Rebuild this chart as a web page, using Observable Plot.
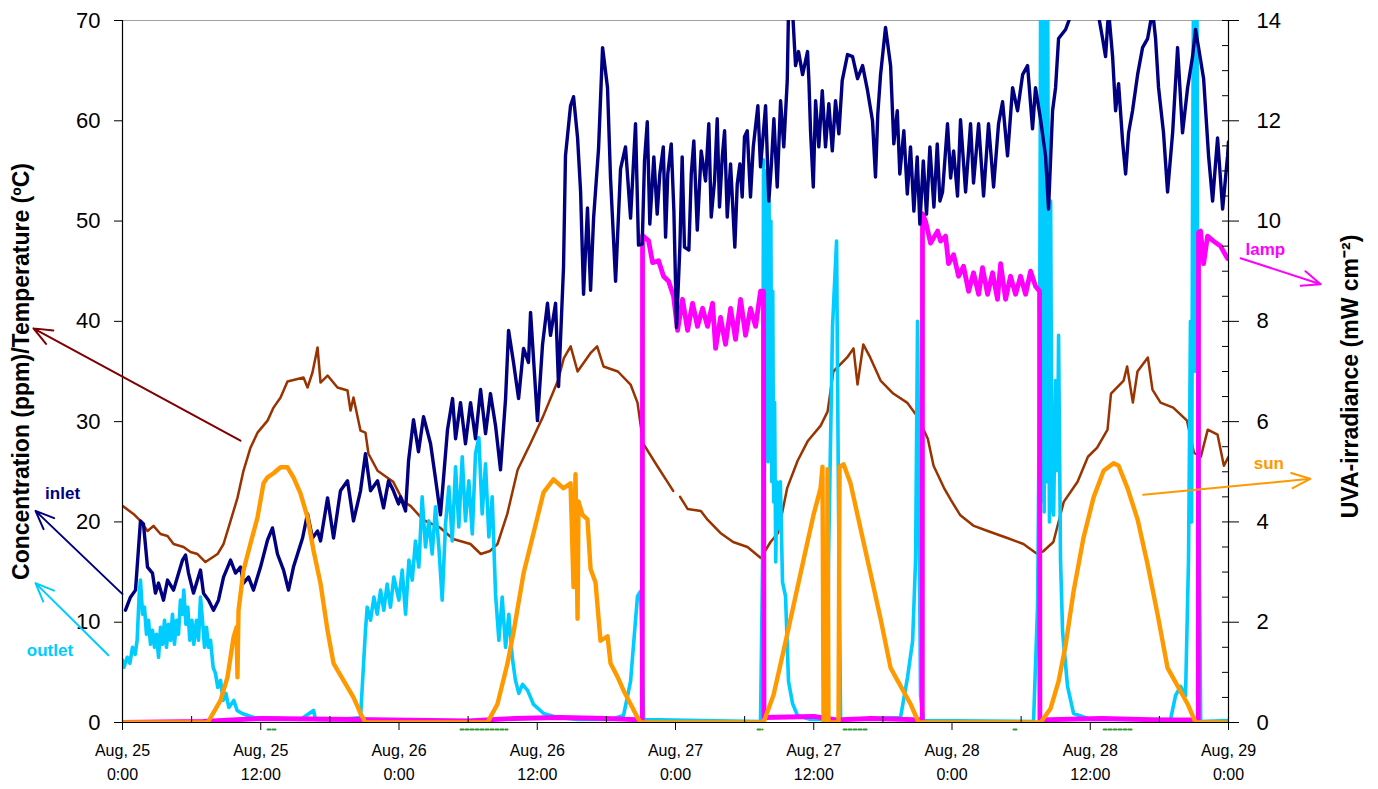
<!DOCTYPE html>
<html><head><meta charset="utf-8">
<script src="https://cdn.jsdelivr.net/npm/d3@7"></script>
<script src="https://cdn.jsdelivr.net/npm/@observablehq/plot@0.6"></script>
<style>
body{margin:0;background:#fff;}
#chart svg{font-family:Arial,"Liberation Sans",sans-serif;}
</style>
</head><body><div id="chart"></div>
<script>
// x = hours since Aug 25 0:00, left-axis values (ppm / ºC)
const inletData = [[0.26,11.2],[0.69,12.5],[1.13,13.2],[1.56,20.1],[1.82,19.8],[2.17,15.5],[2.6,14.9],[2.86,12.9],[3.13,13.9],[3.56,12.2],[3.91,14.2],[4.43,13.2],[4.77,14.5],[5.21,16.2],[5.47,16.7],[5.73,14.9],[6.16,12.9],[6.77,15.2],[7.03,12.9],[7.47,12.2],[7.9,11.2],[8.33,12.2],[8.77,14.5],[9.38,16.2],[9.81,14.9],[10.24,15.5],[10.5,13.9],[10.94,14.5],[11.37,13.2],[11.98,15.5],[12.59,18.2],[13.02,19.4],[13.45,16.8],[13.98,15.2],[14.41,13.2],[14.84,15.5],[15.63,18.4],[16.06,20.8],[16.49,18.4],[16.93,19.1],[17.19,18.1],[17.8,22.4],[18.32,18.4],[18.92,23.1],[19.53,24.1],[20.05,20.1],[20.66,23.1],[21.09,26.8],[21.53,23.1],[22.14,24.1],[22.66,21.4],[23.09,24.1],[23.52,23.1],[23.96,21.8],[24.13,22.5],[24.57,21.1],[24.83,26.1],[25.26,30.2],[25.69,27.0],[26.13,30.5],[26.74,27.8],[27.17,24.3],[27.6,20.7],[27.86,24.3],[28.21,29.2],[28.65,32.3],[28.91,28.3],[29.34,31.9],[29.77,27.8],[30.21,31.9],[30.64,28.3],[31.08,33.2],[31.51,28.8],[31.94,32.8],[32.38,29.6],[32.81,25.2],[33.25,32.3],[33.51,39.1],[33.94,35.9],[34.38,32.3],[34.81,37.3],[35.24,35.9],[35.42,40.9],[36.02,30.1],[36.46,37.7],[36.89,41.8],[37.15,38.6],[37.59,41.8],[37.85,33.5],[38.28,45.4],[38.45,56.5],[38.89,61.5],[39.15,62.4],[39.5,58.3],[39.76,53.0],[40.02,42.7],[40.36,51.3],[40.63,43.1],[40.89,50.3],[41.32,57.2],[41.67,67.3],[42.1,63.3],[42.36,54.3],[42.8,44.0],[43.23,55.2],[43.66,57.4],[44.1,50.3],[44.53,59.7],[44.79,47.6],[45.11,47.7],[45.31,56.0],[45.55,59.9],[45.77,49.7],[46.12,56.4],[46.41,50.7],[46.64,54.7],[46.94,57.4],[47.14,48.4],[47.33,54.7],[47.63,57.7],[47.86,51.0],[48.09,39.4],[48.38,47.4],[48.58,56.4],[48.78,47.4],[49.16,47.1],[49.37,54.7],[49.59,58.0],[49.89,49.1],[50.23,57.0],[50.61,54.0],[50.89,59.7],[51.1,50.4],[51.39,54.0],[51.62,60.2],[51.82,51.4],[52.06,56.4],[52.26,59.0],[52.49,50.4],[52.78,55.7],[53.15,47.4],[53.36,53.7],[53.59,55.7],[53.79,52.4],[53.99,58.4],[54.23,59.0],[54.51,52.4],[54.75,57.4],[55.15,61.5],[55.38,55.4],[55.82,61.5],[56.1,52.0],[56.31,55.4],[56.54,60.2],[56.83,53.4],[57.12,62.0],[57.4,57.4],[57.7,64.0],[57.81,71],[58.16,71],[58.42,65.5],[58.68,66.9],[59.03,64.6],[59.46,66.9],[59.58,64.0],[59.72,59.0],[59.96,53.4],[60.16,62.0],[60.44,57.4],[60.74,63.0],[61.02,57.4],[61.31,61.7],[61.61,57.0],[61.89,62.0],[62.18,58.7],[62.47,64.0],[62.93,66.6],[63.37,66.4],[63.8,64.2],[64.24,65.5],[64.67,63.0],[65.1,60.0],[65.36,54.4],[65.56,60.7],[65.8,64.6],[66.23,69.3],[66.67,65.5],[66.95,57.7],[67.25,61.0],[67.47,54.7],[67.82,59.0],[68.12,52.7],[68.4,57.4],[68.69,51.0],[68.98,56.4],[69.21,49.7],[69.51,56.0],[69.79,50.7],[70.08,57.4],[70.43,51.4],[70.72,57.7],[70.95,52.0],[71.18,52.9],[71.61,59.7],[71.88,54.3],[72.14,57.0],[72.48,52.5],[72.74,60.1],[73.18,52.9],[73.61,59.7],[73.87,53.8],[74.31,59.7],[74.74,52.5],[75.17,59.7],[75.61,53.4],[76.04,59.7],[76.39,61.9],[76.82,56.5],[77.26,63.3],[77.69,61.0],[78.13,64.6],[78.56,65.5],[78.99,59.2],[79.25,63.3],[79.69,60.1],[80.12,56.5],[80.38,51.2],[80.73,61.0],[80.99,63.3],[81.25,68.2],[81.86,69.1],[82.47,71],[84.64,71],[85.07,68.2],[85.33,66.4],[85.59,71],[85.94,66.4],[86.2,61.0],[86.46,63.7],[86.81,57.9],[87.07,54.7],[87.33,58.8],[87.67,61.0],[88.11,64.6],[88.54,67.3],[88.98,68.2],[89.41,71],[89.67,68.2],[89.93,63.3],[90.36,58.8],[90.71,52.9],[91.15,58.8],[91.58,67.3],[92.01,58.8],[92.45,63.3],[92.88,66.4],[93.14,69.1],[93.4,67.3],[93.84,64.2],[94.27,56.5],[94.62,52.0],[95.05,58.3],[95.49,51.2],[95.92,56.5],[96,57.9]];

const outletData = [[0,6.2],[0.12,5.5],[0.41,6.5],[0.64,5.9],[0.87,7.5],[1.1,6.8],[1.27,8.2],[1.45,12.8],[1.56,14.2],[1.74,10.8],[1.91,11.5],[2.08,8.8],[2.26,10.2],[2.43,7.8],[2.6,9.2],[2.78,7.5],[2.95,8.8],[3.13,6.5],[3.3,9.5],[3.47,7.8],[3.65,10.2],[3.82,7.5],[3.99,9.8],[4.17,8.2],[4.34,10.8],[4.51,7.8],[4.69,10.2],[4.86,8.8],[5.03,12.2],[5.21,10.8],[5.32,13.2],[5.5,9.8],[5.67,11.5],[5.84,8.2],[6.02,10.2],[6.19,7.8],[6.42,10.2],[6.6,8.2],[6.77,12.5],[6.94,10.2],[7.12,7.5],[7.29,9.5],[7.47,7.5],[7.64,8.2],[7.87,5.5],[8.07,4.9],[8.27,3.5],[8.51,4.2],[8.74,2.2],[8.97,2.9],[9.23,1.5],[9.66,2.2],[9.95,1.2],[10.39,0.9],[11.37,0.5],[13.72,0.4],[15.45,0.3],[16.58,1.2],[16.75,0.3],[18.92,0.3],[20.66,0.5],[21.09,9.2],[21.24,11.5],[21.53,10.2],[21.82,12.5],[22.11,10.8],[22.4,13.2],[22.68,11.2],[22.97,13.8],[23.26,11.5],[23.55,14.5],[23.99,12.2],[24.28,15.2],[24.57,10.8],[24.86,16.2],[25.15,14.2],[25.43,18.1],[25.72,15.5],[26.01,22.5],[26.3,17.5],[26.59,20.1],[26.88,16.8],[27.17,21.5],[27.46,17.5],[27.75,12.2],[28.04,19.8],[28.33,23.5],[28.62,18.1],[28.91,25.5],[29.19,19.5],[29.49,26.5],[29.77,20.1],[30.06,24.1],[30.36,18.8],[30.64,26.8],[30.93,28.4],[31.22,20.8],[31.51,25.8],[31.8,18.5],[32.09,22.5],[32.38,12.8],[32.67,8.2],[32.96,12.5],[33.25,7.5],[33.53,10.8],[33.83,6.5],[34.11,4.2],[34.4,2.9],[34.72,3.8],[35.16,3.2],[35.68,1.8],[36.55,0.9],[37.76,0.5],[39.5,0.3],[42.36,0.3],[43.49,0.7],[44.1,4.1],[44.7,12.6],[44.97,13.1],[45.23,0.3],[50.17,0.2],[55.38,0.1],[55.56,16.2],[55.64,56.1],[55.72,25],[55.8,55],[55.88,30],[55.96,52],[56.04,26],[56.12,52],[56.2,33],[56.28,50],[56.36,24],[56.44,43],[56.52,22],[56.6,31.9],[56.7,16],[56.8,24],[56.94,19.3],[57.1,24],[57.29,14],[57.55,12.6],[57.81,4.1],[58.16,1.9],[58.59,0.7],[59.72,0.3],[61.2,0.3],[61.28,16.2],[61.63,39.5],[61.98,48.0],[62.15,21.6],[62.33,0.3],[67.53,0.5],[68.14,4.5],[68.58,8.1],[68.84,16.2],[69.01,40.0],[69.27,2.7],[69.53,0.2],[79.08,0.1],[79.43,11.7],[79.6,34.1],[79.7,75],[79.76,22],[79.82,75],[79.88,25],[79.94,75],[80.0,21],[80.06,75],[80.12,28],[80.18,75],[80.24,24],[80.3,75],[80.38,38.6],[80.46,20],[80.56,52.0],[80.68,22],[80.82,20.7],[80.99,34.1],[81.16,25.1],[81.25,38.6],[81.42,16.2],[81.6,9.0],[82.03,3.6],[82.55,0.9],[84.03,0.3],[90.97,0.3],[91.41,2.7],[91.84,3.6],[92.27,2.7],[92.53,16.2],[92.7,40],[92.8,20],[92.88,52.0],[92.97,75],[93.05,35],[93.12,75],[93.2,40],[93.26,75],[93.32,43.1],[93.58,0.1],[96,0.2]];

const tempData = [[0,21.6],[0.95,20.8],[1.56,20.1],[2.17,19.1],[2.69,19.6],[3.3,18.8],[3.91,18.6],[4.43,17.8],[5.3,17.5],[5.9,17.0],[6.51,16.8],[7.2,16.0],[8.25,16.8],[8.77,17.8],[9.38,20.1],[9.98,22.4],[10.5,25.1],[11.11,27.4],[11.72,28.9],[12.59,30.1],[13.11,31.4],[13.72,32.4],[14.32,34.0],[15.71,34.4],[16.06,33.4],[16.49,34.9],[16.93,37.4],[17.19,33.9],[17.8,34.6],[18.66,33.4],[19.53,33.1],[19.79,31.1],[20.05,32.4],[20.66,29.1],[21.09,28.9],[21.35,26.8],[22.14,25.1],[23.0,24.4],[23.5,24.0],[24.4,22.0],[25.0,21.6],[26.1,20.2],[27.6,19.4],[28.7,18.3],[30.2,17.8],[31.1,16.8],[31.9,17.1],[32.55,17.8],[33.4,20.8],[34.3,25.2],[35.4,27.8],[36.5,30.5],[37.8,34.1],[38.3,36.3],[38.9,37.5],[39.5,35.0],[40.6,36.8],[41.2,37.5],[41.75,35.5],[43.0,35.0],[44.1,33.7],[44.7,31.9],[45.2,27.8],[46.4,25.6],[47.3,24.0],[47.8,23.1],[48.1,null],[48.4,22.5],[49.05,21.3],[50.2,21.1],[50.8,20.2],[51.9,18.9],[53.0,18.0],[54.25,17.5],[55.4,16.4],[56.25,18.0],[56.9,18.9],[57.7,23.4],[58.6,26.1],[59.5,28.1],[60.6,29.6],[61.2,31.0],[61.7,35.0],[62.9,36.4],[63.45,37.3],[63.8,33.7],[64.3,37.7],[64.9,36.4],[65.8,34.1],[66.9,32.8],[68.1,31.9],[69.0,30.5],[69.9,28.3],[70.4,25.6],[71.3,23.4],[71.9,22.2],[72.7,20.7],[73.9,19.6],[75.1,19.1],[76.8,18.4],[78.2,17.8],[79.4,16.8],[79.95,17.1],[80.8,18.0],[81.7,22.0],[82.9,24.0],[83.8,26.5],[84.6,27.4],[85.5,29.2],[85.8,32.8],[86.9,34.1],[87.2,35.5],[87.7,31.9],[88.1,35.0],[89.0,36.4],[89.4,33.2],[90.1,31.9],[91.2,31.4],[92.4,30.1],[93.0,26.9],[93.6,26.5],[94.2,29.2],[95.05,28.7],[95.6,25.6],[96,26.5]];

// right-axis values (UVA-irradiance, mW cm-2)
const sunData = [[0,0],[7.4,0],[8.51,0.44],[9.11,0.9],[9.64,1.7],[9.9,1.9],[9.98,0.9],[10.07,2.23],[10.5,3.03],[11.11,3.57],[11.72,4.09],[12.24,4.77],[12.59,4.89],[13.11,4.97],[13.72,5.09],[14.32,5.09],[14.84,4.89],[15.45,4.57],[16.06,4.09],[16.58,3.43],[17.19,2.77],[17.8,1.83],[18.32,1.18],[19.18,0.84],[20.05,0.5],[20.66,0.18],[21.09,0],[31.68,0],[32.55,0.37],[33.42,1.18],[33.94,1.8],[34.81,2.97],[35.68,3.78],[36.55,4.59],[37.41,4.85],[38.28,4.67],[38.89,4.77],[39.15,2.7],[39.32,4.95],[39.5,2.07],[39.58,4.41],[39.93,4.14],[40.36,4.05],[40.63,3.06],[41.06,2.79],[41.49,1.63],[42.1,1.72],[42.36,1.18],[42.97,0.91],[43.49,0.64],[44.1,0.37],[44.7,0.1],[44.97,0],[55.64,0],[56.51,0.55],[57.38,1.43],[58.25,2.34],[59.11,3.24],[59.98,4.14],[60.59,4.67],[60.76,5.1],[60.85,0],[61.11,0],[61.2,5.05],[61.28,0],[62.15,0],[62.24,5.1],[62.59,5.15],[63.19,4.77],[64.06,3.87],[64.93,2.97],[65.8,2.07],[66.67,1.09],[67.53,0.73],[68.4,0.37],[69.1,0],[79.69,0],[80.56,0.28],[81.25,0.82],[81.86,1.54],[82.55,2.61],[83.42,3.69],[84.29,4.49],[85.16,5.02],[86.02,5.17],[86.46,5.12],[87.24,4.67],[88.11,4.05],[88.98,3.15],[89.84,2.16],[90.71,1.09],[91.58,0.73],[92.45,0.37],[93.14,0],[96,0]];

const lampData = [[0,0],[7,0.02],[12,0.08],[20,0.06],[30,0.03],[34,0.08],[38,0.1],[42,0.08],[45.12,0.05],[45.14,9.71],[45.66,9.61],[46.01,9.17],[46.53,9.21],[46.96,8.9],[47.4,8.8],[47.83,8.5],[48.18,7.82],[48.61,8.44],[49.05,7.82],[49.48,8.36],[49.91,7.9],[50.35,8.26],[50.78,7.9],[51.22,8.36],[51.48,7.46],[51.91,8.08],[52.34,7.54],[52.78,8.26],[53.21,7.64],[53.65,8.44],[54.08,7.72],[54.51,8.26],[54.95,7.9],[55.38,8.6],[55.64,8.6],[55.68,0.1],[60,0.12],[62,0.05],[65,0.08],[69.42,0.05],[69.44,10.15],[69.7,10.0],[70.14,9.56],[70.75,9.8],[71.01,9.6],[71.44,9.7],[71.7,9.15],[72.14,9.33],[72.57,8.9],[73.0,9.1],[73.44,8.6],[73.87,8.97],[74.31,8.54],[74.65,9.07],[75.09,8.54],[75.52,8.97],[75.95,8.44],[76.22,9.15],[76.65,8.44],[77.08,8.9],[77.52,8.54],[77.95,8.9],[78.39,8.54],[78.82,9.0],[79.25,8.7],[79.6,8.6],[79.63,0.05],[85,0.08],[90,0.05],[93.38,0.05],[93.4,9.77],[93.58,9.8],[93.84,9.15],[94.18,9.7],[94.7,9.6],[95.31,9.5],[95.92,9.25],[96,9.25]];

// faint green series drawn just under the axis (start hour, end hour)
const greenSegments = [[12.59,13.45],[29.34,33.42],[55.12,55.56],[62.59,64.67],[77.34,77.6],[85.16,87.76]];
const greenLevel = -0.7;

// axes
const leftTicks = [0,10,20,30,40,50,60,70];
const rightTicks = [0,2,4,6,8,10,12,14];
const rightMinor = d3.range(0, 14.01, 0.5);
const xTicks = [0,12,24,36,48,60,72,84,96];
const xTickLabels = ["Aug, 25\n0:00","Aug, 25\n12:00","Aug, 26\n0:00","Aug, 26\n12:00","Aug, 27\n0:00","Aug, 27\n12:00","Aug, 28\n0:00","Aug, 28\n12:00","Aug, 29\n0:00"];
const xMinor = [6,18,30,42,54,66,78,90];

// annotations (series name labels + arrows)
const labelText = ["inlet","outlet","lamp","sun"];
const labelH = [-5.2,-6.3,99.2,99.5];
const labelV = [22.8,7.2,47.2,25.8];
const labelColor = ["#000080","#00CCFF","#FF00FF","#FF9900"];
const arrowX1 = [10.24,0,-1.22,97.05,88.6];
const arrowY1 = [28.1,12.8,6.7,46.3,22.7];
const arrowX2 = [-7.73,-7.55,-7.55,104.0,103.1];
const arrowY2 = [39.3,21.1,13.9,43.7,24.3];
const arrowColor = ["#800000","#000080","#00CCFF","#FF00FF","#FF9900"];

const RATIO = 70 / 14;
const pts = a => a.map(([h, v]) => ({h, v}));
const ptsR = a => a.map(([h, v]) => ({h, v: v * RATIO}));
const greenPts = greenSegments.flatMap(([a, b], i) => [{h: a, v: greenLevel, s: i}, {h: b, v: greenLevel, s: i}]);
const labelMap = new Map(xTicks.map((t, i) => [t, xTickLabels[i]]));
const labels = labelText.map((t, i) => ({t, h: labelH[i], v: labelV[i], c: labelColor[i]}));
const arrows = arrowX1.map((x1, i) => ({x1, y1: arrowY1[i], x2: arrowX2[i], y2: arrowY2[i], c: arrowColor[i]}));

const font = 'Arial, "Liberation Sans", sans-serif';
const chart = Plot.plot({
  width: 1378, height: 789,
  marginLeft: 122, marginRight: 150, marginTop: 20, marginBottom: 67,
  x: {domain: [0, 96]},
  y: {domain: [0, 70]},
  style: {fontFamily: font, background: "#fff", color: "#000", overflow: "visible"},
  marks: [
    Plot.ruleY([70], {stroke: "#a0a0a0", strokeWidth: 1}),
    Plot.line(greenPts, {x: "h", y: "v", z: "s", stroke: "#2e9a2e", strokeWidth: 2, strokeDasharray: "3,2"}),
    Plot.line(pts(tempData), {x: "h", y: "v", stroke: "#993300", strokeWidth: 2.5, clip: true}),
    Plot.line(pts(outletData), {x: "h", y: "v", stroke: "#00CCFF", strokeWidth: 3.6, clip: true}),
    Plot.line(ptsR(lampData), {x: "h", y: "v", stroke: "#FF00FF", strokeWidth: 4.8, clip: true}),
    Plot.line(pts(inletData), {x: "h", y: "v", stroke: "#000080", strokeWidth: 3.4, clip: true}),
    Plot.line(ptsR(sunData), {x: "h", y: "v", stroke: "#FF9900", strokeWidth: 4.4, clip: true}),
    Plot.ruleX([0], {stroke: "#000", strokeWidth: 1.2}),
    Plot.ruleX([96], {stroke: "#000", strokeWidth: 1.2}),
    Plot.ruleY([0], {stroke: "#000", strokeWidth: 1.2}),
    Plot.axisY(leftTicks, {anchor: "left", tickSize: 8, tickPadding: 14, fontSize: 22, label: null}),
    Plot.axisY(rightTicks.map(d => d * RATIO), {anchor: "right", tickSize: 10, tickPadding: 18, fontSize: 22, tickFormat: d => d / RATIO, label: null}),
    Plot.axisY(rightMinor.map(d => d * RATIO), {anchor: "right", tickSize: 7, dx: -7, tickFormat: () => "", label: null}),
    Plot.axisX(xTicks, {anchor: "bottom", tickSize: 8, tickPadding: 8, fontSize: 16, lineHeight: 1.5, tickFormat: d => labelMap.get(d), label: null}),
    Plot.axisX(xMinor, {anchor: "bottom", tickSize: 6, dy: -6, tickFormat: () => "", label: null}),
    Plot.text(["Concentration (ppm)/Temperature (ºC)"], {frameAnchor: "left", textAnchor: "middle", rotate: -90, dx: -101, fontSize: 23, fontWeight: "bold", fill: "#000"}),
    Plot.text(["UVA-irradiance (mW cm⁻²)"], {frameAnchor: "right", textAnchor: "middle", rotate: -90, dx: 122, dy: 5, fontSize: 23, fontWeight: "bold", fill: "#000"}),
    Plot.arrow(arrows, {x1: "x1", y1: "y1", x2: "x2", y2: "y2", stroke: "c", strokeWidth: 2, headLength: 15, headAngle: 45}),
    Plot.text(labels, {x: "h", y: "v", text: "t", fill: "c", fontSize: 17, fontWeight: "bold"})
  ]
});
document.getElementById("chart").appendChild(chart);
</script>
</body></html>
